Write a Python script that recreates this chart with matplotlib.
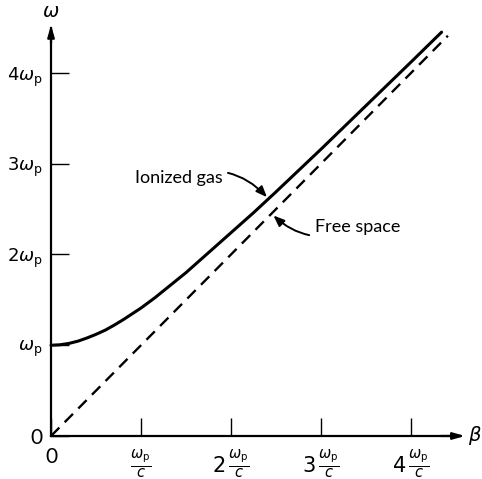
import matplotlib.pyplot as plt

# ==========================================================
# Data (units of omega_p and omega_p / c)
# ==========================================================

BETA_GAS = [0.0, 0.1, 0.2, 0.3, 0.4, 0.5, 0.6, 0.7, 0.8, 0.9, 1.0, 1.15, 1.3,
            1.5, 1.75, 2.0, 2.25, 2.5, 3.0, 3.5, 4.0, 4.34]
OMEGA_GAS = [1.0, 1.005, 1.02, 1.045, 1.08, 1.12, 1.165, 1.22, 1.28, 1.345,
             1.41, 1.52, 1.64, 1.8, 2.02, 2.24, 2.46, 2.69, 3.16, 3.64, 4.12, 4.45]

BETA_FREE = [0.0, 4.41]
OMEGA_FREE = [0.0, 4.41]

X_TICKS = [0, 1, 2, 3, 4]
X_LABELS = ["0", r"$\frac{\omega_\mathrm{p}}{c}$", r"$2\,\frac{\omega_\mathrm{p}}{c}$",
            r"$3\,\frac{\omega_\mathrm{p}}{c}$", r"$4\,\frac{\omega_\mathrm{p}}{c}$"]
Y_TICKS = [0, 1, 2, 3, 4]
Y_LABELS = ["0", r"$\omega_\mathrm{p}$", r"$2\omega_\mathrm{p}$",
            r"$3\omega_\mathrm{p}$", r"$4\omega_\mathrm{p}$"]

plt.rcParams["font.family"] = ["Lato", "DejaVu Sans"]
plt.rcParams["mathtext.fontset"] = "dejavusans"

fig = plt.figure(figsize=(4.82, 4.79), dpi=100)
ax = fig.add_axes([0, 0, 1, 1])
ax.set_xlim(-0.567, 4.789)
ax.set_ylim(-0.474, 4.804)

# curves
ax.plot(BETA_GAS, OMEGA_GAS, color="black", lw=2.2, solid_capstyle="round")
ax.plot(BETA_FREE, OMEGA_FREE, color="black", lw=1.7, dashes=(5, 3.2))

# axes through the origin
for side in ["top", "right"]:
    ax.spines[side].set_visible(False)
ax.spines["left"].set_position(("data", 0))
ax.spines["bottom"].set_position(("data", 0))
ax.spines["left"].set_bounds(0, 4.5)
ax.spines["bottom"].set_bounds(0, 4.55)
ax.spines["left"].set_linewidth(1.6)
ax.spines["bottom"].set_linewidth(1.6)

arrow = dict(arrowstyle="-|>,head_length=0.7,head_width=0.2", color="black", lw=1.6)
ax.annotate("", xy=(0, 4.56), xytext=(0, 4.3), arrowprops=arrow)
ax.annotate("", xy=(4.63, 0), xytext=(4.3, 0), arrowprops=arrow)

ax.set_xticks(X_TICKS, X_LABELS)
ax.set_yticks(Y_TICKS, Y_LABELS)
ax.tick_params(axis="both", direction="in", length=13, width=1.0)
ax.tick_params(axis="x", pad=8, labelsize=15)
ax.tick_params(axis="y", pad=6, labelsize=13)
ax.get_yticklabels()[0].set_fontsize(15)

ax.text(0, 4.68, r"$\omega$", ha="center", va="center", fontsize=14)
ax.text(4.71, 0, r"$\beta$", ha="center", va="center", fontsize=14)

# labels with curved pointers
ax.annotate("Ionized gas", xy=(2.41, 2.62), xytext=(0.93, 2.84),
            ha="left", va="center", fontsize=13,
            arrowprops=dict(arrowstyle="-|>,head_length=0.5,head_width=0.2",
                            color="black", lw=1.4,
                            connectionstyle="arc3,rad=-0.35",
                            shrinkA=2, shrinkB=1))
ax.annotate("Free space", xy=(2.46, 2.44), xytext=(2.93, 2.30),
            ha="left", va="center", fontsize=13,
            arrowprops=dict(arrowstyle="-|>,head_length=0.5,head_width=0.2",
                            color="black", lw=1.4,
                            connectionstyle="arc3,rad=-0.35",
                            shrinkA=2, shrinkB=1))

fig.savefig("out.png", dpi=100)
